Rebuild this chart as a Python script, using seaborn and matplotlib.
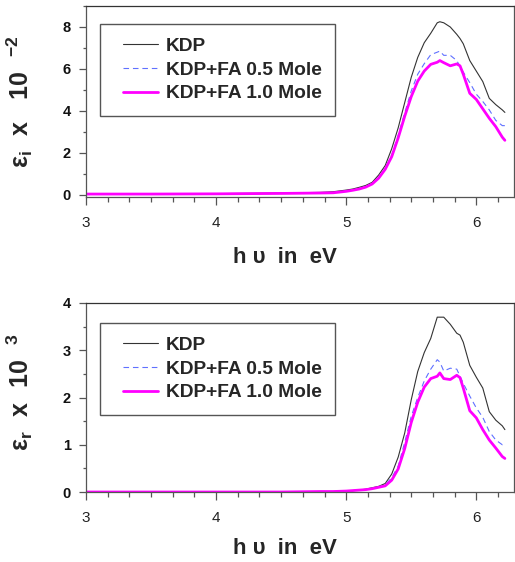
import numpy as np
import pandas as pd
import matplotlib
matplotlib.use("Agg")
import matplotlib.pyplot as plt
from matplotlib.ticker import MultipleLocator
from matplotlib.legend_handler import HandlerLine2D
import seaborn as sns

# ---------------- data ----------------
energy_ev = [3.0, 3.5, 4.0, 4.5, 4.8, 4.9, 5.0, 5.05, 5.1, 5.15, 5.2, 5.25, 5.3, 5.35,
             5.4, 5.45, 5.5, 5.55, 5.6, 5.65, 5.7, 5.72, 5.75, 5.8, 5.85, 5.875, 5.9,
             5.95, 6.0, 6.05, 6.1, 6.15, 6.2, 6.22]

# imaginary part (x 10^-2)
eps_i_kdp = [0.05, 0.05, 0.06, 0.09, 0.12, 0.15, 0.23, 0.28, 0.36, 0.45, 0.6, 0.95, 1.4, 2.2,
             3.2, 4.4, 5.6, 6.55, 7.25, 7.7, 8.2, 8.25, 8.2, 8.0, 7.65, 7.45, 7.2,
             6.4, 5.9, 5.4, 4.6, 4.3, 4.05, 3.93]
eps_i_fa05 = [0.04, 0.04, 0.05, 0.07, 0.09, 0.11, 0.18, 0.23, 0.3, 0.39, 0.53, 0.82, 1.25, 1.9,
              2.85, 3.9, 4.95, 5.75, 6.25, 6.68, 6.8, 6.85, 6.65, 6.65, 6.4, 6.12, 5.85,
              5.35, 4.8, 4.45, 4.05, 3.55, 3.3, 3.3]
eps_i_fa10 = [0.04, 0.04, 0.05, 0.07, 0.09, 0.1, 0.17, 0.22, 0.28, 0.37, 0.52, 0.8, 1.22, 1.82,
              2.72, 3.75, 4.68, 5.42, 5.9, 6.22, 6.32, 6.4, 6.3, 6.15, 6.24, 6.15, 5.75,
              4.84, 4.55, 4.1, 3.65, 3.25, 2.75, 2.6]

# real part (x 10^3)
eps_r_kdp = [0.0, 0.0, 0.0, 0.0, 0.01, 0.01, 0.02, 0.03, 0.04, 0.06, 0.09, 0.12, 0.18, 0.38,
             0.74, 1.25, 1.95, 2.55, 2.95, 3.25, 3.7, 3.7, 3.7, 3.55, 3.36, 3.32, 3.17,
             2.68, 2.43, 2.2, 1.7, 1.52, 1.4, 1.32]
eps_r_fa05 = [0.0, 0.0, 0.0, 0.0, 0.01, 0.01, 0.02, 0.03, 0.04, 0.05, 0.08, 0.11, 0.15, 0.3,
              0.55, 1.05, 1.6, 2.0, 2.35, 2.6, 2.8, 2.75, 2.56, 2.62, 2.6, 2.45, 2.3,
              2.03, 1.78, 1.58, 1.28, 1.1, 1.0, 1.02]
eps_r_fa10 = [0.0, 0.0, 0.0, 0.0, 0.01, 0.01, 0.02, 0.03, 0.04, 0.05, 0.07, 0.1, 0.13, 0.25,
              0.49, 0.92, 1.47, 1.9, 2.22, 2.4, 2.45, 2.52, 2.4, 2.38, 2.47, 2.42, 2.2,
              1.72, 1.57, 1.32, 1.1, 0.93, 0.75, 0.71]

series_names = ["KDP", "KDP+FA 0.5 Mole", "KDP+FA 1.0 Mole"]

# ---------------- style ----------------
sns.set_style("ticks")
plt.rcParams["font.family"] = ["Liberation Sans", "DejaVu Sans"]
plt.rcParams["mathtext.fontset"] = "custom"
plt.rcParams["mathtext.rm"] = "Liberation Sans:bold"
plt.rcParams["mathtext.it"] = "Liberation Sans:bold"
plt.rcParams["mathtext.bf"] = "Liberation Sans:bold"

styles = {
    "KDP": dict(color="#333333", lw=0.8, ls="-"),
    "KDP+FA 0.5 Mole": dict(color="#5f70ff", lw=0.8, ls=(0, (5, 3.5))),
    "KDP+FA 1.0 Mole": dict(color="#ff00ff", lw=2.0, ls="-"),
}


class OffsetLineHandler(HandlerLine2D):
    """Legend line that starts a little to the right inside its handle box."""
    def __init__(self, offset, **kw):
        super().__init__(**kw)
        self.offset = offset

    def create_artists(self, legend, orig_handle, xdescent, ydescent, width, height,
                       fontsize, trans):
        return super().create_artists(legend, orig_handle, xdescent - self.offset,
                                      ydescent, width - self.offset, height, fontsize, trans)


W, H = 515, 562
fig = plt.figure(figsize=(W / 100, H / 100), dpi=100)


def make_axes(top_px, bottom_px):
    left = 86 / W
    right = 514 / W
    return fig.add_axes([left, 1 - bottom_px / H, right - left, (bottom_px - top_px) / H])


ax1 = make_axes(6, 197)
ax2 = make_axes(303, 492)


def draw(ax, vals, ylim, ymajor, yminor, ylabel, legend_top, xlab_y, ylab_y):
    for name, v in zip(series_names, vals):
        df = pd.DataFrame({"E": energy_ev, "y": v})
        st = styles[name]
        sns.lineplot(data=df, x="E", y="y", ax=ax, color=st["color"], linewidth=st["lw"],
                     linestyle=st["ls"], label=name)
    ax.set_xlim(3, 6.29)
    ax.set_ylim(*ylim)
    ax.xaxis.set_major_locator(MultipleLocator(1))
    ax.xaxis.set_minor_locator(MultipleLocator(1 / 6))
    ax.yaxis.set_major_locator(MultipleLocator(ymajor))
    ax.yaxis.set_minor_locator(MultipleLocator(yminor))
    ax.tick_params(axis="x", which="major", length=6, width=0.9, direction="out",
                   labelsize=11, color="#555555", labelcolor="#222222", pad=8)
    ax.tick_params(axis="x", which="minor", length=3.6, width=0.9, direction="out",
                   color="#555555")
    ax.tick_params(axis="y", which="major", length=5, width=0.9, direction="out",
                   labelsize=10.5, color="#555555", labelcolor="#111111", pad=6)
    ax.tick_params(axis="y", which="minor", length=2.3, width=0.9, direction="out",
                   color="#555555")
    for lab in ax.get_yticklabels():
        lab.set_fontweight("bold")
    for s in ax.spines.values():
        s.set_visible(True)
        s.set_color("#555555")
        s.set_linewidth(0.9)
    ax.spines["top"].set_color("#333333")
    ax.set_xlabel("h υ  in  eV", fontsize=16, fontweight="bold")
    ax.xaxis.set_label_coords(0.465, xlab_y)
    ax.set_ylabel(ylabel, fontsize=18)
    ax.yaxis.set_label_coords(-0.118, ylab_y)
    handles, labels = ax.get_legend_handles_labels()
    leg = ax.legend(handles, labels, loc="upper left", bbox_to_anchor=(0.033, legend_top),
                    borderaxespad=0, fancybox=False, framealpha=1,
                    edgecolor="#555555", prop={"size": 13.8, "weight": "bold"},
                    handlelength=2.32, handletextpad=0.42, labelspacing=0.33,
                    borderpad=0.7,
                    handler_map={h: OffsetLineHandler(6.9) for h in handles})
    leg.get_frame().set_linewidth(1.0)


draw(ax1, [eps_i_kdp, eps_i_fa05, eps_i_fa10], (-0.1, 9.0), 2, 1,
     r"$\mathrm{ε_{i}\ \ x\ \ \ 10\ \ ^{-2}}$", 0.906, -0.26, 0.5)
draw(ax2, [eps_r_kdp, eps_r_fa05, eps_r_fa10], (0, 4), 1, 0.5,
     r"$\mathrm{ε_{r}\ \ x\ \ 10\ \ ^{3}}$", 0.894, -0.245, 0.525)

fig.savefig("out.png", dpi=100)
